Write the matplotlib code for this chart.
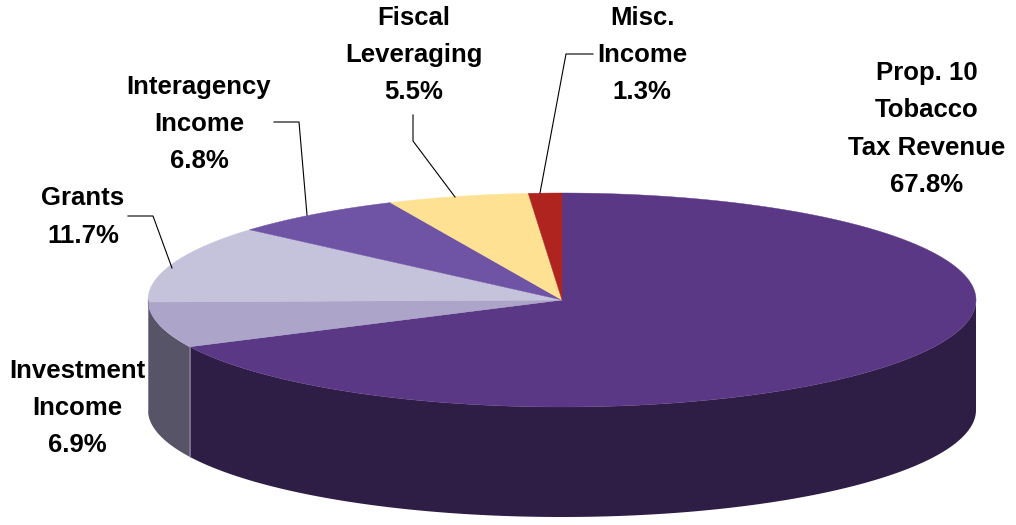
import numpy as np
import matplotlib.pyplot as plt
from matplotlib.colors import to_rgb

# revenue sources (percent of total), clockwise from 12 o'clock
names = ['Prop. 10\nTobacco\nTax Revenue', 'Investment\nIncome', 'Grants',
         'Interagency\nIncome', 'Fiscal\nLeveraging', 'Misc.\nIncome']
shares = [67.8, 6.9, 11.7, 6.8, 5.5, 1.3]
colors = ['#5b3886', '#ada5c9', '#c5c2dc', '#6f53a4', '#fee192', '#b0241f']

# pie geometry in pixel coords (y grows downwards)
cx, cy = 562, 300
rx, ry = 414, 107
depth = 110

fig = plt.figure(figsize=(10.16, 5.25), dpi=100)
ax = fig.add_axes([0, 0, 1, 1])
ax.set_xlim(0, 1016)
ax.set_ylim(525, 0)
ax.axis('off')


def px(t):
    return cx + rx * np.cos(np.radians(t))


def py(t):
    return cy - ry * np.sin(np.radians(t))


# slice angles: start at 90 deg and go clockwise
fracs = np.array(shares) / sum(shares)
ends = 90 - 360 * np.cumsum(fracs)
starts = np.concatenate([[90], ends[:-1]])

# side walls (only the front half is visible)
for s, e, c in zip(starts, ends, colors):
    side = tuple(0.51 * v for v in to_rgb(c))
    for k in (-1, 0):
        lo = max(e, 180 + 360 * k)
        hi = min(s, 360 + 360 * k)
        if hi <= lo:
            continue
        t = np.linspace(lo, hi, 200)
        xs = np.concatenate([px(t), px(t[::-1])])
        ys = np.concatenate([py(t), py(t[::-1]) + depth])
        ax.fill(xs, ys, color=side, lw=0)
        ax.plot([px(lo), px(lo)], [py(lo), py(lo) + depth], color='#8a7fa8', lw=0.6)

# top faces
for s, e, c in zip(starts, ends, colors):
    t = np.linspace(s, e, 300)
    xs = np.concatenate([[cx], px(t)])
    ys = np.concatenate([[cy], py(t)])
    ax.fill(xs, ys, color=c, lw=0.3, ec=c)

# labels
lab_pos = [(927, 129), (77, 408), (83, 217), (199, 124), (414, 55), (642, 55)]
for n, v, (x, y) in zip(names, shares, lab_pos):
    ax.text(x, y, f'{n}\n{v:.1f}%', ha='center', va='center', fontsize=18.5,
            fontweight='bold', family='Liberation Sans', linespacing=1.7)

# leader lines
leaders = [([128, 153, 172], [216, 216, 268]),
           ([274, 299, 307], [122, 122, 215]),
           ([413, 413, 455], [115, 141, 197]),
           ([593, 566, 540], [54, 54, 193])]
for xs, ys in leaders:
    ax.plot(xs, ys, color='black', lw=0.8)

plt.savefig('out.png')
